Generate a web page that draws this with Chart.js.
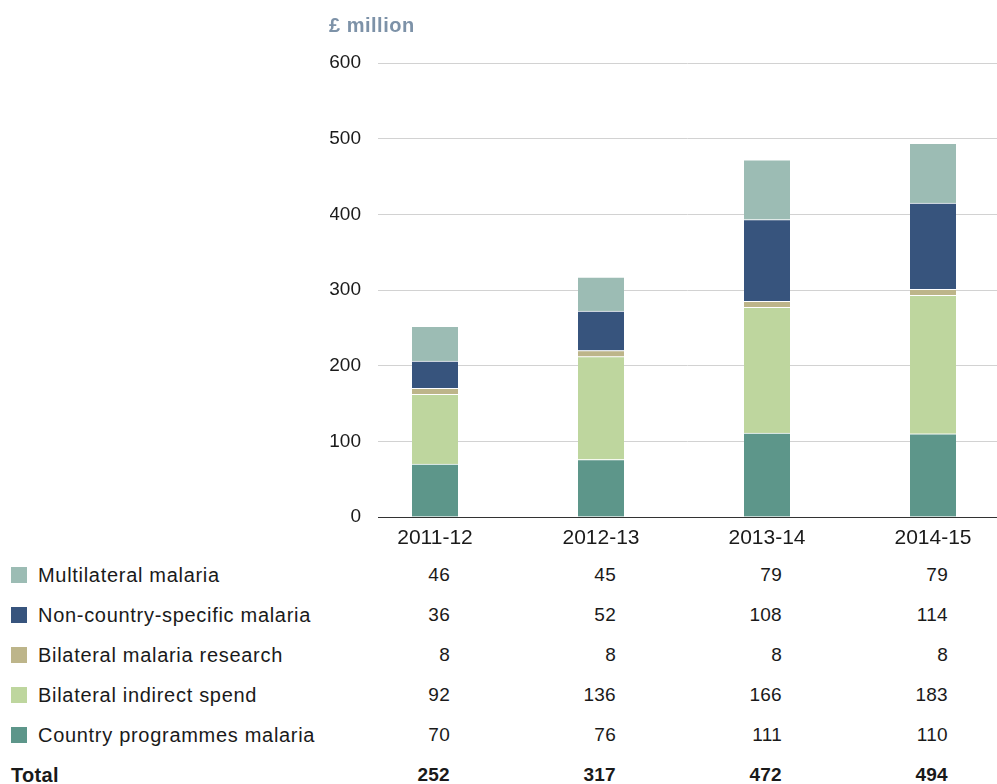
<!DOCTYPE html>
<html>
<head>
<meta charset="utf-8">
<script src="https://cdn.jsdelivr.net/npm/chart.js@4"></script>
<style>
  html, body { margin: 0; padding: 0; background: #fff; }
  body { width: 997px; height: 784px; position: relative; overflow: hidden;
         font-family: 'Liberation Sans', Arial, sans-serif; color: #1a1a1a; }
  #wrap { position: absolute; left: 0; top: 0; width: 997px; height: 560px; }
  .unit { position: absolute; left: 329px; top: 14px; font-size: 20px; letter-spacing: 0.5px;
          font-weight: bold; color: #7d92a8; }
  .row { position: absolute; left: 0; height: 20px; font-size: 19px; line-height: 20px; }
  .sw { position: absolute; left: 11px; top: 2px; width: 16px; height: 16px; }
  .lbl { position: absolute; left: 38px; top: 0; white-space: nowrap; font-size: 20px; letter-spacing: 0.7px; }
  .num { position: absolute; top: 0; white-space: nowrap; text-align: right; width: 60px; letter-spacing: 0.3px; }
  .total { font-weight: bold; }
  .total .lbl { left: 11px; letter-spacing: 0.3px; }
</style>
</head>
<body>
<div id="wrap"><canvas id="chart" width="997" height="560"></canvas></div>
<div class="unit">£ million</div>
<div id="table"></div>
<script>
// ─────────────────────────────────────────
// DATA
// ─────────────────────────────────────────
const years = ['2011-12', '2012-13', '2013-14', '2014-15'];

const countryProgrammes = [70, 76, 111, 110];
const bilateralIndirect = [92, 136, 166, 183];
const bilateralResearch = [8, 8, 8, 8];
const nonCountrySpecific = [36, 52, 108, 114];
const multilateral = [46, 45, 79, 79];
const totals = [252, 317, 472, 494];

const yTicks = [0, 100, 200, 300, 400, 500, 600];

// stacked bottom to top
const series = [
  { label: 'Country programmes malaria', values: countryProgrammes, color: '#5d968a' },
  { label: 'Bilateral indirect spend', values: bilateralIndirect, color: '#bed69e' },
  { label: 'Bilateral malaria research', values: bilateralResearch, color: '#bdb58a' },
  { label: 'Non-country-specific malaria', values: nonCountrySpecific, color: '#37547d' },
  { label: 'Multilateral malaria', values: multilateral, color: '#9cbcb4' },
];

const FONT = "'Liberation Sans', Arial, sans-serif";

// ─────────────────────────────────────────
// CHART
// ─────────────────────────────────────────
const chart = new Chart(document.getElementById('chart'), {
  type: 'bar',
  data: {
    datasets: series.map(s => ({
      label: s.label,
      data: s.values.map((v, i) => ({ x: i, y: v })),
      backgroundColor: s.color,
      borderColor: '#ffffff',
      borderWidth: { top: 1, left: 0, right: 0, bottom: 0 },
      borderSkipped: false,
      barThickness: 46,
    })),
  },
  options: {
    responsive: false,
    animation: false,
    layout: { padding: { left: 330, top: 63, right: 0, bottom: 0 } },
    plugins: { legend: { display: false }, tooltip: { enabled: false } },
    scales: {
      x: {
        type: 'linear',
        stacked: true,
        offset: false,
        min: -0.3434,
        max: 3.3855,
        afterBuildTicks: s => { s.ticks = years.map((_, i) => ({ value: i })); },
        afterFit: s => { s.height = 43; },
        ticks: {
          autoSkip: false,
          maxRotation: 0,
          padding: 9,
          color: '#1a1a1a',
          font: { family: FONT, size: 21 },
          callback: v => years[v] ?? '',
        },
        grid: { display: false, drawTicks: false },
        border: { color: '#333333', width: 1 },
      },
      y: {
        stacked: true,
        min: 0,
        max: 600,
        afterBuildTicks: s => { s.ticks = yTicks.map(v => ({ value: v })); },
        afterFit: s => { s.width = 48; },
        ticks: {
          padding: 17,
          color: '#1a1a1a',
          font: { family: FONT, size: 19 },
        },
        grid: { color: '#d2d2d2', lineWidth: 1, drawTicks: false },
        border: { display: false },
      },
    },
  },
});

// ─────────────────────────────────────────
// DATA TABLE — legend rows + values
// ─────────────────────────────────────────
const table = document.getElementById('table');
const xs = chart.scales.x;
const rows = [...series].reverse().map(s => ({ label: s.label, color: s.color, values: s.values }));
rows.push({ label: 'Total', color: null, values: totals, bold: true });

rows.forEach((r, ri) => {
  const row = document.createElement('div');
  row.className = 'row' + (r.bold ? ' total' : '');
  row.style.top = (565 + ri * 40) + 'px';
  row.style.width = '997px';
  if (r.color) {
    const sw = document.createElement('div');
    sw.className = 'sw';
    sw.style.background = r.color;
    row.appendChild(sw);
  }
  const lbl = document.createElement('div');
  lbl.className = 'lbl';
  lbl.textContent = r.label;
  row.appendChild(lbl);
  r.values.forEach((v, i) => {
    const n = document.createElement('div');
    n.className = 'num';
    n.textContent = v;
    n.style.left = (xs.getPixelForValue(i) + 15 - 60) + 'px';
    row.appendChild(n);
  });
  table.appendChild(row);
});
</script>
</body>
</html>
